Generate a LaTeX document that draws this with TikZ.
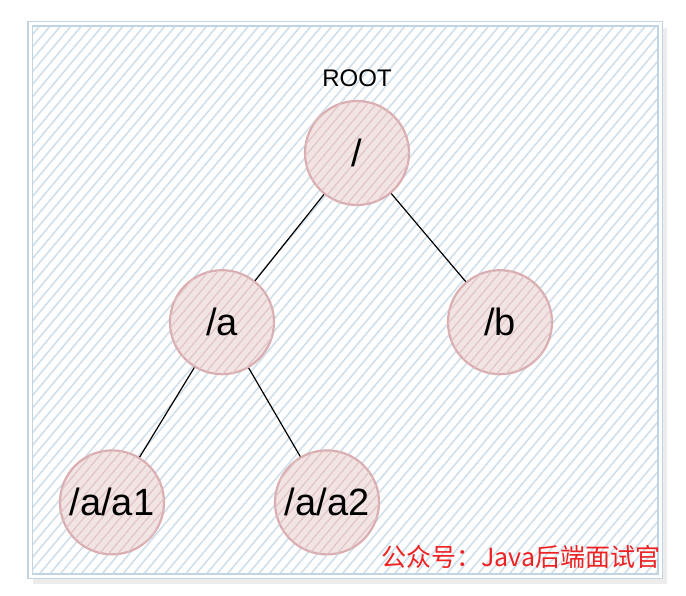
\documentclass[tikz,border=0pt]{standalone}
\usepackage{fontspec}
\setmainfont{Liberation Sans}
\newfontfamily\cjk{Noto Sans CJK SC}
\usetikzlibrary{positioning, patterns.meta}
\definecolor{boxline}{RGB}{192,212,227}
\definecolor{boxhatch}{RGB}{208,223,234}
\definecolor{boxshadow}{RGB}{236,236,236}
\definecolor{nodefill}{RGB}{243,228,228}
\definecolor{nodehatch}{RGB}{224,196,198}
\definecolor{nodeline}{RGB}{218,174,176}
\definecolor{markred}{RGB}{238,34,34}
\tikzset{
	every node/.style={
		align=center,
	},
	zknode/.style={
		circle, minimum size=104pt, inner sep=0pt, line width=2.2pt,
		draw=nodeline, fill=nodefill,
		postaction={pattern={Lines[angle=50,distance=7pt,line width=1.2pt]}, pattern color=nodehatch},
		font=\fontsize{38}{40}\selectfont,
	},
	link/.style={
		line width=1.2pt,
	},
}

\begin{document}
\begin{tikzpicture}[x=1pt,y=1pt]
        \useasboundingbox (0,0) rectangle (686,-596);
        % background frame
        \fill[boxshadow] (33,-28) rectangle (667,-584);
        \fill[white] (28,-22) rectangle (662,-578);
        \fill[pattern={Lines[angle=50,distance=8pt,line width=1.6pt]}, pattern color=boxhatch] (28,-22) rectangle (662,-578);
        \draw[boxline, double=white, double distance=3pt, line width=1.2pt] (30,-24) rectangle (660,-576);
        % tree
        \node[zknode] (root) at (357,-153) {/};
        \node[above=10pt of root, font=\fontsize{24}{26}\selectfont] (rootname) {ROOT};
        \node[zknode, below=63pt of root, xshift=-135pt] (a) {/a};
        \node[zknode, below=63pt of root, xshift=143pt] (b) {/b};
        \node[zknode, below=74pt of a, xshift=-110pt] (a1) {/a/a1};
        \node[zknode, below=74pt of a, xshift=105pt] (a2) {/a/a2};
        \draw[link] (root) -- (a);
        \draw[link] (root) -- (b);
        \draw[link] (a) -- (a1);
        \draw[link] (a) -- (a2);
        \node[text=markred, font=\cjk\fontsize{25}{27}\selectfont] (mark) at (521,-557) {公众号：Java后端面试官};
\end{tikzpicture}
\end{document}
